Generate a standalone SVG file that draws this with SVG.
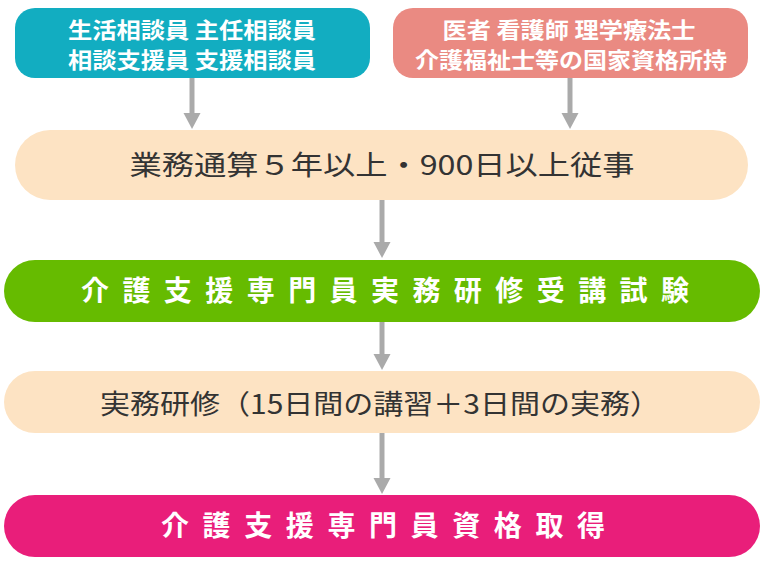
<svg xmlns="http://www.w3.org/2000/svg" width="760" height="570" viewBox="0 0 760 570">
<defs>
<style>
.t{font-family:"Noto Sans CJK JP","Noto Sans",sans-serif;text-anchor:middle}
.w{fill:#ffffff;font-weight:bold}
.d{fill:#333333;font-weight:normal}
.ln{stroke:#aaaaaa;stroke-width:5;fill:none}
.ah{fill:#aaaaaa}
</style>
</defs>
<rect width="760" height="570" fill="#ffffff"/>
<g id="connectors">
<line class="ln" x1="192" y1="78" x2="192" y2="114"/>
<path class="ah" d="M183.5,113 L200.5,113 L192,129 Z"/>
<line class="ln" x1="570" y1="78" x2="570" y2="114"/>
<path class="ah" d="M561.5,113 L578.5,113 L570,129 Z"/>
<line class="ln" x1="382" y1="200" x2="382" y2="243"/>
<path class="ah" d="M373.5,242 L390.5,242 L382,258 Z"/>
<line class="ln" x1="382" y1="322" x2="382" y2="355"/>
<path class="ah" d="M373.5,354 L390.5,354 L382,370 Z"/>
<line class="ln" x1="382" y1="433" x2="382" y2="479"/>
<path class="ah" d="M373.5,478 L390.5,478 L382,494 Z"/>
</g>
<g id="node-teal">
<rect x="15" y="8" width="355" height="70" rx="20" fill="#12adc1"/>
<text class="t w" x="192" y="38" font-size="22" textLength="248" lengthAdjust="spacingAndGlyphs">生活相談員 主任相談員</text>
<text class="t w" x="192" y="68" font-size="22" textLength="248" lengthAdjust="spacingAndGlyphs">相談支援員 支援相談員</text>
</g>
<g id="node-salmon">
<rect x="393" y="8" width="355" height="70" rx="20" fill="#ea8a82"/>
<text class="t w" x="569" y="38" font-size="22" textLength="253" lengthAdjust="spacingAndGlyphs">医者 看護師 理学療法士</text>
<text class="t w" x="571" y="68" font-size="22" textLength="312" lengthAdjust="spacingAndGlyphs">介護福祉士等の国家資格所持</text>
</g>
<g id="node-experience">
<rect x="15" y="130" width="733" height="70" rx="35" fill="#fde3c3"/>
<text class="t d" x="382" y="175" font-size="27" textLength="505" lengthAdjust="spacingAndGlyphs">業務通算５年以上・900日以上従事</text>
</g>
<g id="node-exam">
<rect x="4" y="260" width="756" height="62" rx="31" fill="#66bb00"/>
<text class="t w" x="385" y="301" font-size="28" textLength="608" lengthAdjust="spacing">介護支援専門員実務研修受講試験</text>
</g>
<g id="node-training">
<rect x="4" y="371" width="756" height="62" rx="31" fill="#fde3c3"/>
<text class="t d" x="380" y="414" font-size="27" textLength="560" lengthAdjust="spacingAndGlyphs">実務研修（15日間の講習＋3日間の実務）</text>
</g>
<g id="node-qualified">
<rect x="4" y="495" width="756" height="62" rx="31" fill="#e91e7a"/>
<text class="t w" x="383" y="536" font-size="28" textLength="444" lengthAdjust="spacing">介護支援専門員資格取得</text>
</g>
</svg>
